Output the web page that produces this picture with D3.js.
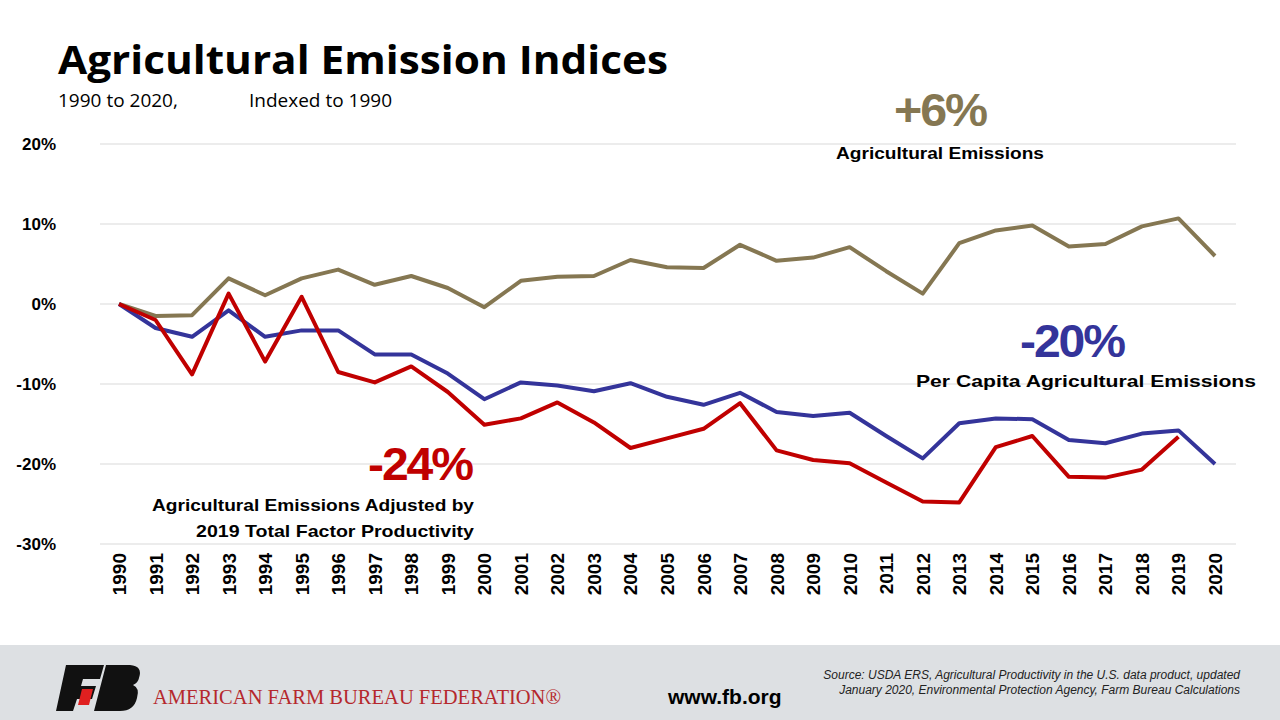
<!DOCTYPE html>
<html><head><meta charset="utf-8">
<script src="https://cdn.jsdelivr.net/npm/d3@7"></script>
<style>body{margin:0;background:#fff}svg{display:block}</style>
</head><body>
<script>
var years = d3.range(1990, 2021);
var agEmissions = [0,-1.5,-1.4,3.2,1.1,3.2,4.3,2.4,3.5,2.0,-0.4,2.9,3.4,3.5,5.5,4.6,4.5,7.4,5.4,5.8,7.1,4.1,1.3,7.6,9.2,9.8,7.2,7.5,9.7,10.7,6.0];
var perCapita = [0,-3,-4.1,-0.8,-4.1,-3.3,-3.3,-6.3,-6.3,-8.7,-11.9,-9.8,-10.2,-10.9,-9.9,-11.6,-12.6,-11.1,-13.5,-14.0,-13.6,-16.5,-19.3,-14.9,-14.3,-14.4,-17.0,-17.4,-16.2,-15.8,-20.0];
var tfpAdjusted = [0,-2,-8.8,1.3,-7.2,0.9,-8.5,-9.8,-7.8,-11,-15.1,-14.3,-12.3,-14.8,-18,-16.8,-15.6,-12.4,-18.3,-19.5,-19.9,-22.3,-24.7,-24.8,-17.9,-16.5,-21.6,-21.7,-20.7,-16.6];
var yTicks = [20,10,0,-10,-20,-30];

var svg = d3.select("body").append("svg").attr("width",1280).attr("height",720);
var x = d3.scaleLinear().domain([1990,2020]).range([119,1215]);
var y = d3.scaleLinear().domain([-30,20]).range([544,144]);

// title
svg.append("text").attr("x",58).attr("y",74).attr("font-family","Open Sans, Arial, sans-serif")
  .attr("font-weight","bold").attr("font-size",40).attr("textLength",610).attr("lengthAdjust","spacingAndGlyphs")
  .text("Agricultural Emission Indices");
svg.append("text").attr("x",58).attr("y",107).attr("font-family","Open Sans, Arial, sans-serif")
  .attr("font-size",19).text("1990 to 2020,");
svg.append("text").attr("x",249).attr("y",107).attr("font-family","Open Sans, Arial, sans-serif")
  .attr("font-size",19).text("Indexed to 1990");

// grid
svg.append("g").selectAll("line").data(yTicks).join("line")
  .attr("x1",100).attr("x2",1236).attr("y1",d=>y(d)).attr("y2",d=>y(d))
  .attr("stroke","#d9d9d9").attr("stroke-width",1);
svg.append("g").selectAll("text").data(yTicks).join("text")
  .attr("x",56).attr("y",d=>y(d)+6).attr("text-anchor","end")
  .attr("font-family","Liberation Sans, Arial, sans-serif").attr("font-weight","bold").attr("font-size",17)
  .text(d=>d+"%");
svg.append("g").selectAll("text").data(years).join("text")
  .attr("transform",d=>`translate(${x(d)+7},553) rotate(-90)`).attr("text-anchor","end")
  .attr("font-family","Liberation Sans, Arial, sans-serif").attr("font-weight","bold").attr("font-size",19)
  .text(d=>d);

var line = d3.line().x((d,i)=>x(years[i])).y(d=>y(d));
[[agEmissions,"#857752"],[perCapita,"#34349a"],[tfpAdjusted,"#c00000"]].forEach(function(s){
  svg.append("path").attr("d",line(s[0])).attr("fill","none").attr("stroke",s[1])
    .attr("stroke-width",4).attr("stroke-linejoin","round");
});

// annotations
function ann(tx,ty,t,c,size,w){
  var el = svg.append("text").attr("x",tx).attr("y",ty).attr("text-anchor","middle").attr("fill",c)
    .attr("font-family","Liberation Sans, Arial, sans-serif").attr("font-weight","bold")
    .attr("font-size",size).attr("letter-spacing",size>30?-2:0).text(t);
  if (w) el.attr("textLength",w).attr("lengthAdjust","spacingAndGlyphs");
}
ann(940,126,"+6%","#857752",46,92);
ann(940,159,"Agricultural Emissions","#000",17,208);
ann(1072,357,"-20%","#34349a",46,104);
ann(1086,387,"Per Capita Agricultural Emissions","#000",17,340);
ann(420,480,"-24%","#c00000",46,104);
ann(313,511,"Agricultural Emissions Adjusted by","#000",17,322);
ann(335,537,"2019 Total Factor Productivity","#000",17,278);

// footer
svg.append("rect").attr("x",0).attr("y",645).attr("width",1280).attr("height",75).attr("fill","#dde0e3");
svg.append("path").attr("d","M66,665 L104,665 L100,679 L83,679 L81,686 L96,686 L92,699 L77,699 L73,711 L56,711 Z").attr("fill","#111");
svg.append("path").attr("d","M106,665 L130,665 Q143,666 139,678 Q138,683 133,685 Q140,688 137,698 Q134,711 120,711 L94,711 Z").attr("fill","#111");
svg.append("path").attr("d","M82,689 L93,689 L89,705 L78,705 Z").attr("fill","#e02020");
svg.append("text").attr("x",153).attr("y",704).attr("fill","#b5282d")
  .attr("font-family","Liberation Serif, Times New Roman, serif").attr("font-size",21)
  .attr("textLength",408).attr("lengthAdjust","spacingAndGlyphs").text("AMERICAN FARM BUREAU FEDERATION®");
svg.append("text").attr("x",668).attr("y",704).attr("font-family","Liberation Sans, Arial, sans-serif")
  .attr("font-weight","bold").attr("font-size",21).text("www.fb.org");
svg.append("text").attr("x",1240).attr("y",679).attr("text-anchor","end").attr("font-style","italic")
  .attr("font-family","Liberation Sans, Arial, sans-serif").attr("font-size",12).attr("fill","#222")
  .text("Source: USDA ERS, Agricultural Productivity in the U.S. data product, updated");
svg.append("text").attr("x",1240).attr("y",694).attr("text-anchor","end").attr("font-style","italic")
  .attr("font-family","Liberation Sans, Arial, sans-serif").attr("font-size",12).attr("fill","#222")
  .text("January 2020, Environmental Protection Agency, Farm Bureau Calculations");
</script>
</body></html>
